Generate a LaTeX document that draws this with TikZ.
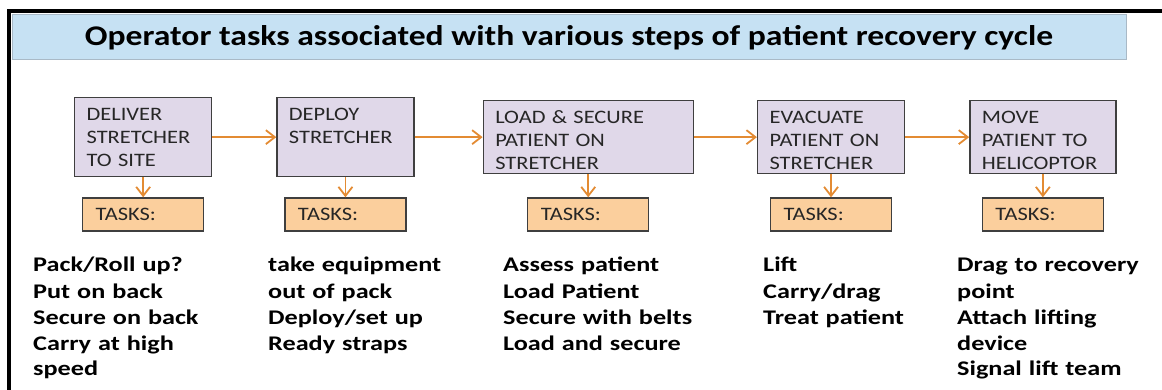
\documentclass[tikz,border=0pt]{standalone}
\usepackage{fontspec}
\setmainfont{Carlito}[FakeStretch=1.18]
\newfontfamily\listfont{Carlito}[FakeStretch=1.26]
\usepackage{tikz}
\usetikzlibrary{arrows.meta, positioning}

\definecolor{titlefill}{HTML}{C6E1F3}
\definecolor{titleedge}{HTML}{A9B9C6}
\definecolor{stagefill}{HTML}{E0D8E9}
\definecolor{taskfill}{HTML}{FBCF9D}
\definecolor{boxedge}{HTML}{3F3F3F}
\definecolor{boxtext}{HTML}{262626}
\definecolor{flowline}{HTML}{E38B33}

\begin{document}
\begin{tikzpicture}[
  x=1pt, y=-1pt,
  node distance=20pt and 64pt,
  >={Straight Barb[length=9pt, width=14pt]},
  stage/.style={
    rectangle, draw=boxedge, fill=stagefill,
    line width=1.3pt, align=left,
    inner xsep=12pt, inner ysep=0pt,
    text height=23pt,           % first line sits near the top
    font=\fontsize{19}{22.7}\selectfont, text=boxtext
  },
  tasks/.style={
    rectangle, draw=boxedge, fill=taskfill,
    line width=1.3pt, align=left,
    text width=95pt, inner xsep=13pt,
    minimum height=33pt,
    font=\fontsize{19}{22.7}\selectfont, text=boxtext
  },
  tasklist/.style={
    anchor=base west, align=left, inner sep=0pt,
    text width=200pt,
    font=\listfont\bfseries\fontsize{20.8}{26}\selectfont
  },
  flow/.style={->, draw=flowline, line width=1.8pt},
]
\useasboundingbox (0,0) rectangle (1162,390);

% --- Frame and title ---
\draw[line width=4pt] (9,390) -- (9,11) -- (1162,11);
\node[draw=titleedge, fill=titlefill, line width=1pt,
      minimum width=1114pt, minimum height=45pt, inner sep=0pt,
      font=\bfseries\fontsize{28.5}{34}\selectfont] (title) at (569,37.5)
  {Operator tasks associated with various steps of patient recovery cycle};

% --- Steps of the cycle ---
\node[stage, text width=113pt, text depth=56pt, anchor=north west] (deliver) at (74,97)
  {DELIVER\\ STRETCHER\\ TO SITE};
\node[stage, text width=113pt, text depth=56pt, right=of deliver] (deploy)
  {DEPLOY\\ STRETCHER};
\node[stage, text width=186pt, text depth=50pt, right=68pt of deploy] (load)
  {LOAD \& SECURE\\ PATIENT ON\\ STRETCHER};
\node[stage, text width=123pt, text depth=50pt, right=63pt of load] (evacuate)
  {EVACUATE\\ PATIENT ON\\ STRETCHER};
\node[stage, text width=122pt, text depth=50pt, right=of evacuate] (move)
  {MOVE\\ PATIENT TO\\ HELICOPTOR};

% --- Tasks boxes ---
\node[tasks, below=of deliver] (tdeliver) {TASKS:};
\node[tasks, below=of deploy] (tdeploy) {TASKS:};
\node[tasks, below=23pt of load] (tload) {TASKS:};
\node[tasks, below=23pt of evacuate] (tevacuate) {TASKS:};
\node[tasks, below=23pt of move] (tmove) {TASKS:};

% --- Task lists ---
\node[tasklist] (ldeliver) at (33,272)
  {Pack/Roll up?\\ Put on back\\ Secure on back\\ Carry at high\\ speed};
\node[tasklist] (ldeploy) at (268,272)
  {take equipment\\ out of pack\\ Deploy/set up\\ Ready straps};
\node[tasklist] (lload) at (503,272)
  {Assess patient\\ Load Patient\\ Secure with belts\\ Load and secure};
\node[tasklist] (levacuate) at (763,272)
  {Lift\\ Carry/drag\\ Treat patient};
\node[tasklist] (lmove) at (957,272)
  {Drag to recovery\\ point\\ Attach lifting\\ device\\ Signal lift team};

% --- Arrows ---
\draw[flow] (deliver) -- (deploy);
\draw[flow] (deploy) -- (load);
\draw[flow] (load) -- (evacuate);
\draw[flow] (evacuate) -- (move);

\draw[flow] (deliver) -- (tdeliver);
\draw[flow] (deploy) -- (tdeploy);
\draw[flow] (load) -- (tload);
\draw[flow] (evacuate) -- (tevacuate);
\draw[flow] (move) -- (tmove);

\end{tikzpicture}
\end{document}
